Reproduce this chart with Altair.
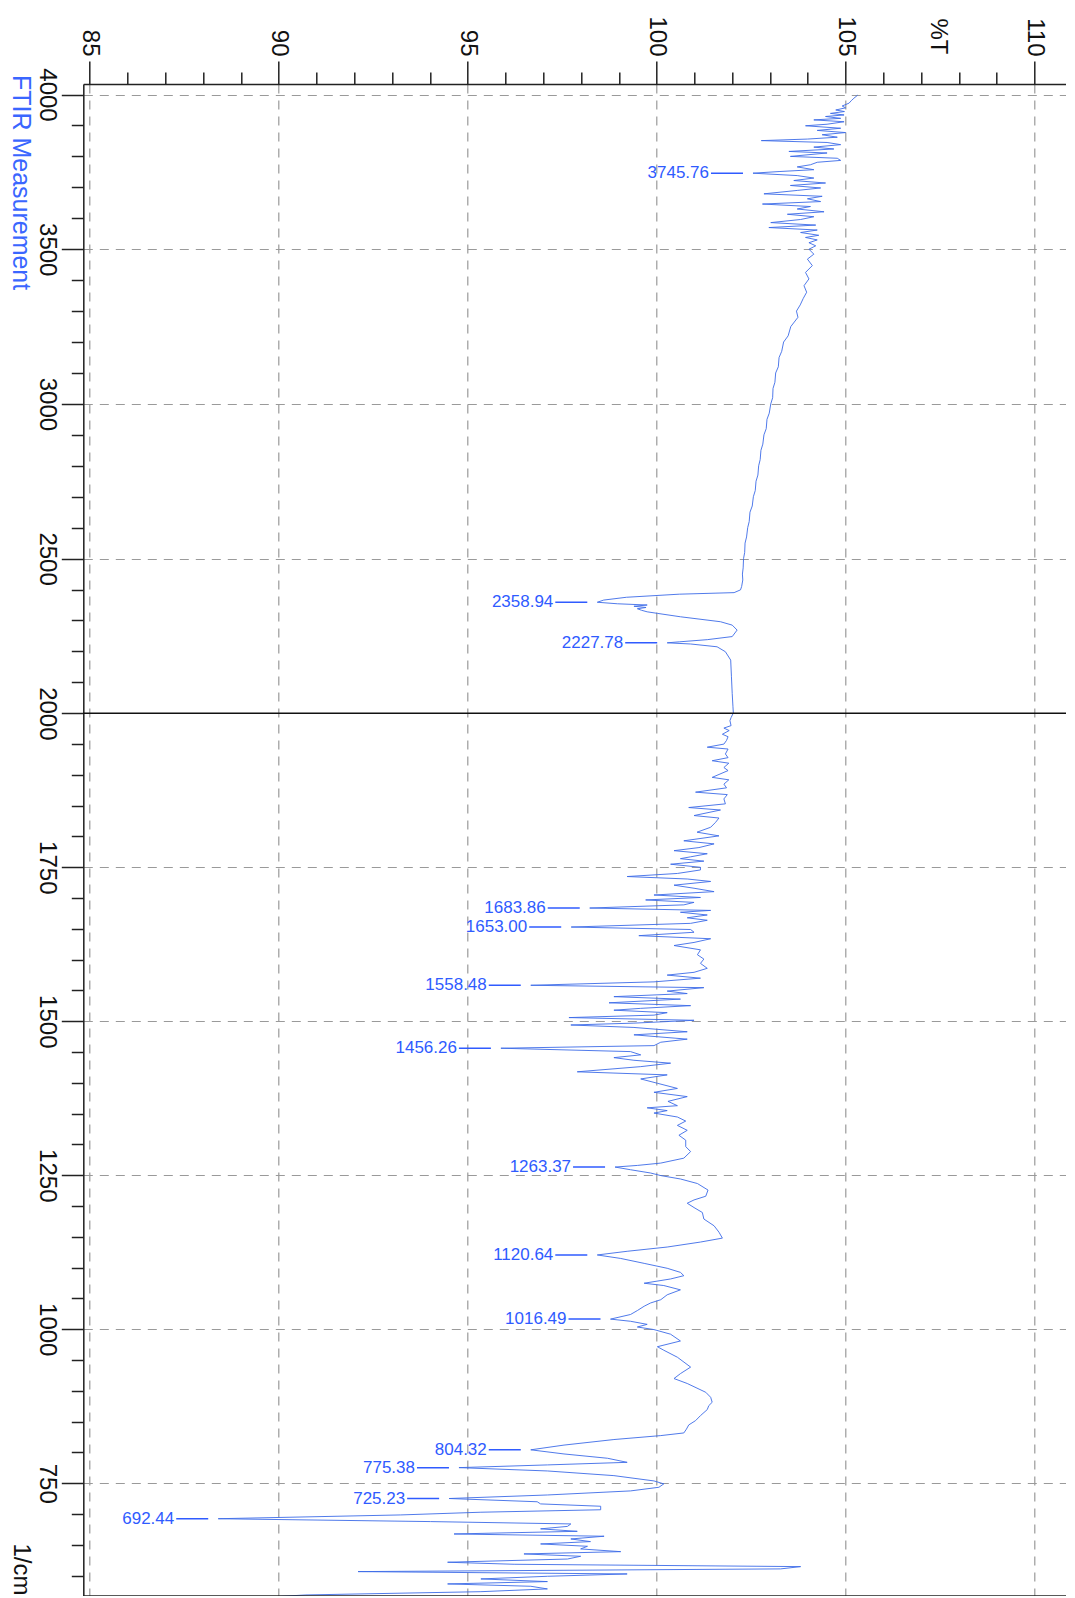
import altair as alt
import pandas as pd

# ---------------- data ----------------
wavenumber = [
    3998, 3988, 3980, 3972, 3963, 3957, 3950, 3945, 3939, 3934, 3929, 3923, 3918, 3912, 3904, 3899,
    3891, 3884, 3877, 3870, 3862, 3856, 3851, 3845, 3838, 3830, 3824, 3816, 3811, 3800, 3794, 3787,
    3781, 3773, 3766, 3757, 3751, 3745.76, 3738, 3730, 3722, 3714, 3706, 3698, 3690, 3679, 3671, 3663,
    3654, 3646, 3638, 3630, 3621, 3613, 3605, 3596, 3586, 3578, 3570, 3562, 3554, 3545, 3538, 3530,
    3521, 3511, 3500, 3484, 3468, 3447, 3425, 3404, 3382, 3361, 3341,
    3320, 3300, 3280, 3250, 3220, 3200, 3170, 3150, 3120, 3100, 3070, 3050, 3020, 3000, 2970, 2950,
    2920, 2900, 2870, 2850, 2820, 2800, 2770, 2750, 2720, 2700, 2670, 2650, 2620, 2600, 2570, 2550,
    2520, 2500, 2470, 2450, 2431, 2410, 2399, 2390,
    2385, 2375, 2366, 2358.94, 2354, 2350, 2346, 2342, 2338, 2333, 2328, 2323, 2312, 2296, 2285, 2269,
    2248, 2238, 2231, 2227.78, 2224, 2215, 2199, 2172, 2118, 2064, 2021, 2001,
    1993, 1988, 1980, 1976, 1972, 1966, 1962, 1956, 1950, 1945, 1942, 1934, 1928, 1923, 1919, 1912,
    1907, 1896, 1892, 1885, 1879, 1872, 1868, 1861, 1853, 1847, 1843, 1834, 1830, 1823, 1815, 1807,
    1801, 1793, 1788, 1782, 1777, 1772, 1767, 1764, 1760, 1755, 1750,
    1745.7, 1740, 1735, 1731, 1727, 1721, 1716, 1710.5, 1705, 1701, 1697, 1693, 1689, 1683.86, 1680, 1677,
    1672.6, 1668, 1664, 1659, 1653.00, 1649, 1644.5, 1639, 1634, 1628, 1623, 1616, 1608, 1601, 1594, 1586,
    1579.5, 1575, 1570, 1564, 1558.48, 1554.6, 1549, 1545, 1540, 1536, 1530, 1525.4, 1521, 1518, 1514, 1510,
    1506, 1501.6, 1497, 1494, 1490, 1483, 1478, 1471, 1466, 1460.5, 1456.26, 1450.8, 1445.5, 1441, 1436.7, 1432,
    1426.4, 1418, 1413, 1406.4, 1399.4, 1391, 1384.7, 1377.7,
    1370, 1363, 1359.5, 1355, 1351, 1344.6, 1338, 1331, 1323, 1315, 1307, 1296.5, 1288.5, 1277.8, 1269.8, 1266,
    1263.37, 1259, 1253.7, 1249.5, 1244, 1236.6, 1226, 1216, 1210, 1204.6, 1197.6, 1189.6, 1179, 1168, 1157.6, 1148,
    1141.6, 1133.5, 1126.6, 1120.64, 1115, 1107, 1099, 1092.4, 1087, 1081.7, 1074.8, 1071, 1064, 1056, 1048, 1042.7,
    1037.4, 1030.4, 1024, 1016.49, 1013, 1008, 1003.7, 999.5, 992, 981, 971.7, 966, 954.6, 938.6, 928, 920,
    912, 897.7, 889.6, 881.5, 876, 869.6, 859.8, 851.7, 844.7, 838, 831.7, 827.4, 821, 812, 804.32, 797.6,
    790.6, 784, 779.8, 775.38, 770, 762.4, 753.8, 749, 743.5, 737.6, 731, 725.23, 720, 716.5, 712.7, 707,
    703, 698.6, 692.44, 687.8, 684, 680, 676, 672, 667.7, 664, 659.6, 655.3, 651.5, 647.7, 643.4, 639,
    635.3, 631.5, 627, 621.8, 618.5, 614.7, 611, 606.6, 602.8, 599, 594.7, 590.4, 586.6, 582.8, 578.5, 574,
    568.7, 562,
]
transmittance = [
    105.32, 105.22, 105.15, 105.09, 104.91, 105.00, 104.74, 104.97, 104.60, 104.96, 104.47, 104.87, 104.16, 104.96, 104.51, 103.94,
    104.87, 104.25, 105.00, 104.38, 104.78, 103.99, 102.77, 104.51, 104.87, 104.16, 104.69, 103.50, 104.51, 103.54, 104.78, 104.87,
    104.25, 104.07, 103.72, 104.16, 103.24, 102.55, 103.72, 104.16, 103.63, 104.47, 103.54, 104.34, 103.72, 102.84, 104.38, 103.99,
    104.34, 102.80, 104.07, 103.72, 104.43, 103.46, 104.16, 103.81, 103.02, 104.21, 102.97, 104.25, 103.81, 104.29, 103.94, 104.25,
    104.03, 104.21, 104.03, 104.16, 103.99, 104.12, 103.94, 104.03, 103.90, 103.97, 103.88,
    103.80, 103.70, 103.74, 103.55, 103.48, 103.36, 103.31, 103.24, 103.22, 103.15, 103.13, 103.08, 103.07, 103.02, 102.98, 102.92,
    102.90, 102.84, 102.81, 102.76, 102.74, 102.70, 102.68, 102.63, 102.61, 102.56, 102.53, 102.47, 102.45, 102.41, 102.38, 102.34,
    102.33, 102.30, 102.29, 102.27, 102.28, 102.25, 102.22, 102.05,
    100.60, 99.20, 98.60, 98.43, 98.96, 99.75, 99.40, 99.72, 99.49, 99.60, 99.75, 100.02, 100.63, 101.69, 102.00, 102.13,
    102.00, 101.34, 100.60, 100.28, 100.90, 101.60, 101.82, 101.96, 101.98, 102.00, 102.02, 102.03,
    101.97, 101.94, 101.97, 101.78, 101.92, 101.74, 101.89, 101.85, 101.78, 101.34, 101.89, 101.82, 101.89, 101.47, 101.91, 101.78,
    101.89, 101.47, 101.91, 101.78, 101.85, 101.03, 101.87, 101.78, 101.82, 100.85, 101.69, 100.99, 101.65, 101.56, 101.43, 101.07,
    101.65, 100.72, 101.52, 101.12, 100.46, 101.34, 100.90, 100.63, 101.25, 100.37, 101.16,
    101.16, 100.55, 99.22, 100.81, 101.43, 100.46, 100.99, 101.52, 99.93, 101.16, 99.71, 100.99, 100.72, 98.23, 101.43, 100.63,
    101.34, 100.81, 101.34, 100.90, 97.74, 100.90, 100.99, 99.53, 101.43, 100.99, 100.46, 101.16, 101.08, 101.25, 101.16, 101.34,
    100.99, 100.28, 101.16, 99.93, 96.67, 101.25, 100.28, 100.81, 98.87, 100.63, 98.74, 100.90, 99.58, 98.87, 100.28, 99.93,
    97.68, 100.99, 99.40, 97.73, 99.40, 100.81, 99.40, 100.81, 100.11, 99.93, 95.88, 99.31, 99.58, 98.87, 99.40, 100.37,
    99.58, 97.90, 100.28, 99.58, 100.02, 100.55, 99.93, 100.81,
    100.30, 100.55, 99.75, 100.28, 99.93, 100.55, 100.77, 100.55, 100.81, 100.59, 100.77, 100.77, 100.90, 100.72, 100.11, 99.49,
    98.90, 99.31, 99.84, 100.11, 100.63, 101.08, 101.36, 101.30, 100.99, 100.81, 100.99, 101.21, 101.25, 101.52, 101.65, 101.74,
    101.16, 100.28, 99.22, 98.43, 99.05, 99.67, 100.28, 100.63, 100.72, 100.37, 99.67, 100.19, 100.63, 100.28, 100.11, 99.84,
    99.67, 99.49, 99.31, 98.78, 99.31, 99.75, 99.49, 99.93, 100.37, 100.63, 100.02, 100.19, 100.55, 100.90, 100.63, 100.46,
    100.81, 101.30, 101.43, 101.47, 101.38, 101.34, 101.16, 101.03, 100.85, 100.79, 100.72, 100.11, 98.87, 97.55, 96.67, 97.55,
    98.70, 99.22, 97.11, 94.77, 97.11, 98.87, 99.93, 100.19, 100.06, 99.31, 97.11, 94.51, 96.84, 96.93, 98.52, 98.52,
    95.35, 93.23, 88.40, 94.02, 97.73, 97.64, 96.93, 97.90, 94.64, 98.61, 97.73, 98.25, 96.93, 98.17, 97.99, 99.05,
    96.49, 97.99, 97.64, 94.47, 96.23, 103.81, 103.28, 92.10, 99.22, 97.11, 95.35, 97.11, 94.47, 96.67, 97.11, 95.35,
    90.72, 88.82,
]

peak_wn = [3745.76, 2358.94, 2227.78, 1683.86, 1653.00, 1558.48, 1456.26, 1263.37,
           1120.64, 1016.49, 804.32, 775.38, 725.23, 692.44]
peak_T = [102.55, 98.43, 100.28, 98.23, 97.74, 96.67, 95.88, 98.90,
          98.43, 98.78, 96.67, 94.77, 94.51, 88.40]
peak_text = ["3745.76", "2358.94", "2227.78", "1683.86", "1653.00", "1558.48", "1456.26", "1263.37",
             "1120.64", "1016.49", "804.32", "775.38", "725.23", "692.44"]

x_ticks = [85, 86, 87, 88, 89, 90, 91, 92, 93, 94, 95, 96, 97, 98, 99, 100,
           101, 102, 103, 104, 105, 106, 107, 108, 109, 110]
y_ticks = [4000, 3900, 3800, 3700, 3600, 3500, 3400, 3300, 3200, 3100, 3000, 2900, 2800, 2700,
           2600, 2500, 2400, 2300, 2200, 2100, 2000, 1950, 1900, 1850, 1800, 1750, 1700, 1650,
           1600, 1550, 1500, 1450, 1400, 1350, 1300, 1250, 1200, 1150, 1100, 1050, 1000, 950,
           900, 850, 800, 750, 700, 650, 600]
break_wn = [2000]
frame_bottom_wn = [567]
series_name = ["FTIR Measurement"]

# ---------------- chart ----------------
FONT = "Liberation Sans"
LINE_BLUE = "#3c6be8"
LABEL_BLUE = "#2f5bff"
FRAME = "#222"

W = 983
H = 1512
xscale = alt.Scale(domain=[84.83, 110.84], nice=False, zero=False)
yscale = alt.Scale(domain=[4034, 2000, 567], range=[0, 629.3, H], nice=False, zero=False)

x_major = "datum.value % 5 === 0"
y_major = "(datum.value >= 2000 ? datum.value % 500 === 0 : datum.value % 250 === 0)"

x_axis = alt.Axis(
    orient="top", values=x_ticks, tickCount=500, title="%T",
    format="d",
    labelExpr=f"{x_major} ? datum.label : ''",
    tickSize={"condition": {"test": x_major, "value": 23}, "value": 12},
    tickColor=FRAME, tickWidth=1.5,
    domain=True, domainColor=FRAME, domainWidth=1.5,
    grid=True, gridColor="#9a9a9a", gridWidth=1.2, gridDash=[9, 7],
    gridOpacity={"condition": {"test": x_major, "value": 1}, "value": 0},
    labelAngle=90, labelAlign="right", labelBaseline="middle",
    labelFont=FONT, labelFontSize=24, labelColor="#111", labelPadding=5,
    labelFlush=False, labelOverlap=False, labelBound=False,
    titleAngle=90, titleAlign="right", titleBaseline="middle",
    titleX=854, titleY=-30, titleFont=FONT, titleFontSize=24,
    titleFontWeight="normal", titleColor="#111",
)
y_axis = alt.Axis(
    orient="left", values=y_ticks, tickCount=500, title="1/cm",
    labelExpr=f"{y_major} ? datum.label : ''",
    format="d",
    tickSize={"condition": {"test": y_major, "value": 22}, "value": 12},
    tickColor=FRAME, tickWidth=1.5,
    domain=True, domainColor=FRAME, domainWidth=1.5,
    grid=True, gridColor="#9a9a9a", gridWidth=1.2, gridDash=[9, 7],
    gridOpacity={"condition": {"test": y_major, "value": 1}, "value": 0},
    labelAngle=90, labelAlign="center", labelBaseline="top",
    labelFont=FONT, labelFontSize=24, labelColor="#111", labelPadding=3,
    labelFlush=False, labelOverlap=False, labelBound=False,
    titleAngle=90, titleAlign="right", titleBaseline="middle",
    titleX=-63, titleY=H - 1, titleFont=FONT, titleFontSize=24,
    titleFontWeight="normal", titleColor="#111",
)

df = pd.DataFrame({"wn": wavenumber, "T": transmittance, "i": list(range(len(wavenumber)))})
peaks = pd.DataFrame({"wn": peak_wn, "T": peak_T, "txt": peak_text})
brk = pd.DataFrame({"wn": break_wn})
bottom = pd.DataFrame({"wn": frame_bottom_wn})
legend = pd.DataFrame({"name": series_name})

line = alt.Chart(df).mark_line(color=LINE_BLUE, strokeWidth=0.9, clip=True).encode(
    x=alt.X("T:Q", scale=xscale, axis=x_axis),
    y=alt.Y("wn:Q", scale=yscale, axis=y_axis),
    order=alt.Order("i:Q"),
)

break_rule = alt.Chart(brk).mark_rule(color="#111", strokeWidth=1.5).encode(
    y=alt.Y("wn:Q", scale=yscale),
)

bottom_rule = alt.Chart(bottom).mark_rule(color=FRAME, strokeWidth=1.5).encode(
    y=alt.Y("wn:Q", scale=yscale),
)

leaders = alt.Chart(peaks).mark_rule(color=LABEL_BLUE, strokeWidth=1.5, xOffset=-42, x2Offset=-10).encode(
    x=alt.X("T:Q", scale=xscale),
    x2=alt.X2("T"),
    y=alt.Y("wn:Q", scale=yscale),
)

peak_labels = alt.Chart(peaks).mark_text(
    align="right", baseline="middle", dx=-44, font=FONT, fontSize=17, color=LABEL_BLUE
).encode(
    x=alt.X("T:Q", scale=xscale),
    y=alt.Y("wn:Q", scale=yscale),
    text="txt:N",
)

legend_text = alt.Chart(legend).mark_text(
    align="left", baseline="middle", angle=90, font=FONT, fontSize=25, color="#3a66ff"
).encode(
    x=alt.value(-62.5),
    y=alt.value(-9),
    text="name:N",
)

chart = alt.layer(line, break_rule, bottom_rule, leaders, peak_labels, legend_text).properties(
    width=W, height=H,
    autosize=alt.AutoSizeParams(type="none"),
    padding={"left": 75.3, "top": 76, "right": 0, "bottom": 0},
).configure_view(
    strokeWidth=0
).configure(font=FONT)

chart.save("out.html", embed_options={"renderer": "svg", "actions": False})
